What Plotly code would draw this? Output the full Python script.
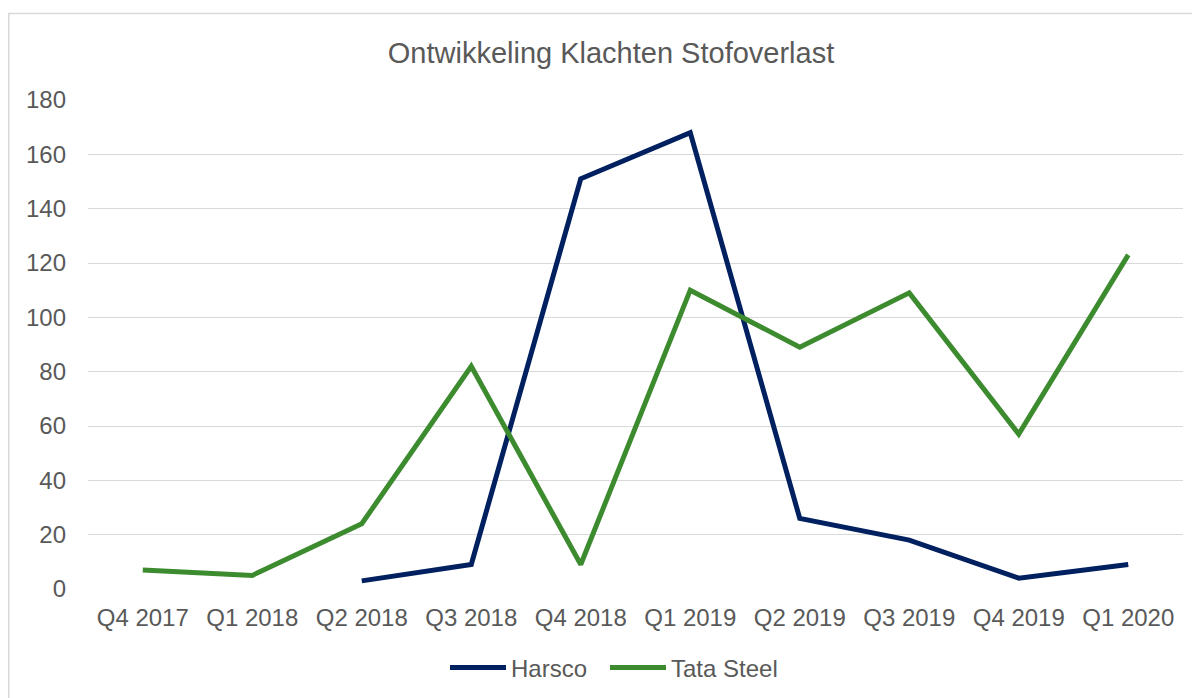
import plotly.graph_objects as go

categories = ["Q4 2017", "Q1 2018", "Q2 2018", "Q3 2018", "Q4 2018",
              "Q1 2019", "Q2 2019", "Q3 2019", "Q4 2019", "Q1 2020"]
harsco = [None, None, 3, 9, 151, 168, 26, 18, 4, 9]
tata_steel = [7, 5, 24, 82, 9, 110, 89, 109, 57, 123]
y_ticks = [0, 20, 40, 60, 80, 100, 120, 140, 160, 180]

font_color = "#595959"
W, H = 1192, 690
L, R, T, B = 80, 17, 92, 109
PW, PH = W - L - R, H - T - B

fig = go.Figure()
fig.add_trace(go.Scatter(x=categories, y=harsco, mode="lines", name="Harsco",
                         line=dict(color="#002060", width=5), connectgaps=False,
                         legend="legend"))
fig.add_trace(go.Scatter(x=categories, y=tata_steel, mode="lines", name="Tata Steel",
                         line=dict(color="#3D8B2F", width=5), legend="legend2"))

legend_y = -(660 - (H - B)) / PH
legend_common = dict(orientation="h", xanchor="left", y=legend_y, yanchor="middle",
                     font=dict(size=24, color=font_color), itemwidth=56,
                     bgcolor="rgba(0,0,0,0)")

fig.update_layout(
    width=W, height=H,
    margin=dict(l=L, r=R, t=T, b=B, autoexpand=False),
    paper_bgcolor="white", plot_bgcolor="white",
    font=dict(family="Liberation Sans, Arial, sans-serif", color=font_color, size=24),
    title=dict(text="Ontwikkeling Klachten Stofoverlast", x=603/W, xanchor="center",
               y=1-45/H, yanchor="middle", font=dict(size=29, color=font_color)),
    showlegend=True,
    legend=dict(x=(437 - L)/PW, **legend_common),
    legend2=dict(x=(597 - L)/PW, **legend_common),
    xaxis=dict(type="category", range=[-0.5, 9.5], showgrid=False, zeroline=False,
               showline=False, ticks="", ticklabelstandoff=12, automargin=False,
               tickfont=dict(size=24, color=font_color)),
    yaxis=dict(range=[0, 180], tickvals=y_ticks, showgrid=True, gridcolor="#D9D9D9",
               gridwidth=1.3, zeroline=False, showline=False, ticks="", automargin=False,
               ticklabelstandoff=21, tickfont=dict(size=24, color=font_color)),
)
# outer chart border (top and left edges visible)
fig.add_shape(type="rect", xref="paper", yref="paper",
              x0=(0.75 - L)/PW, x1=(W + 20 - L)/PW,
              y0=-(H + 20 - (H - B))/PH, y1=((H - B) - 5.5)/PH,
              line=dict(color="#D9D9D9", width=1.5), layer="below")
fig.write_html("out.html")
